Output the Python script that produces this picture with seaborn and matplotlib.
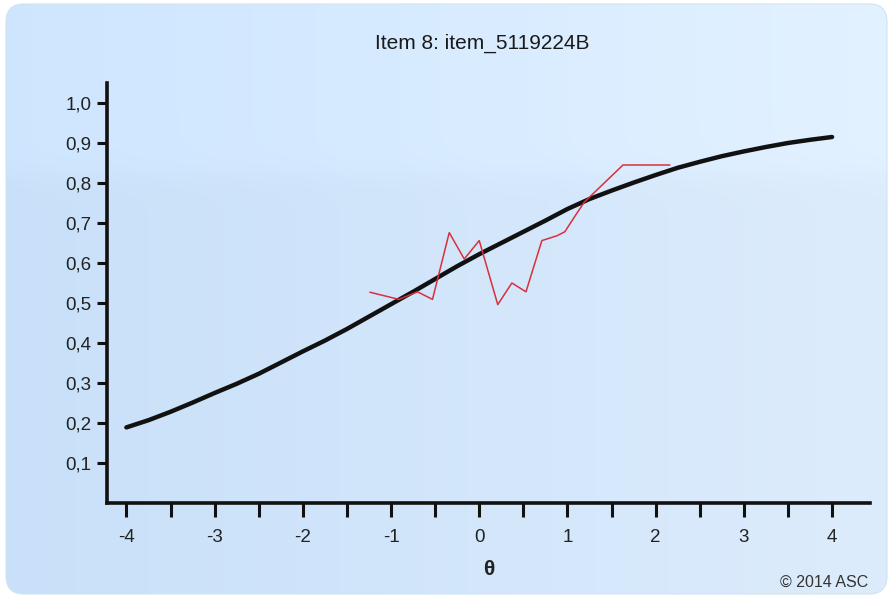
import numpy as np
import pandas as pd
import matplotlib
matplotlib.use("Agg")
import matplotlib.pyplot as plt
import seaborn as sns
from matplotlib.patches import FancyBboxPatch

# ---------------- data ----------------
title_text = "Item 8: item_5119224B"
x_label = "θ"
credit_text = "© 2014 ASC"

theta_icc = [-4.0, -3.75, -3.5, -3.25, -3.0, -2.75, -2.5, -2.25, -2.0, -1.75,
             -1.5, -1.25, -1.0, -0.75, -0.5, -0.25, 0.0, 0.25, 0.5, 0.75,
             1.0, 1.25, 1.5, 1.75, 2.0, 2.25, 2.5, 2.75, 3.0, 3.25, 3.5, 3.75, 4.0]
p_icc = [0.189, 0.207, 0.228, 0.251, 0.275, 0.298, 0.323, 0.351, 0.379, 0.406,
         0.435, 0.466, 0.497, 0.528, 0.560, 0.592, 0.622, 0.650, 0.678, 0.706,
         0.735, 0.760, 0.781, 0.801, 0.820, 0.838, 0.853, 0.867, 0.879, 0.890, 0.900, 0.908, 0.915]

theta_emp = [-1.24, -0.91, -0.70, -0.53, -0.34, -0.17, 0.0, 0.21, 0.37, 0.53,
             0.71, 0.88, 0.97, 1.07, 1.19, 1.63, 2.16]
p_emp = [0.527, 0.509, 0.528, 0.509, 0.676, 0.610, 0.656, 0.496, 0.550, 0.528,
         0.656, 0.668, 0.678, 0.712, 0.752, 0.845, 0.845]

y_ticks = [0.1, 0.2, 0.3, 0.4, 0.5, 0.6, 0.7, 0.8, 0.9, 1.0]
y_tick_labels = ["0,1", "0,2", "0,3", "0,4", "0,5", "0,6", "0,7", "0,8", "0,9", "1,0"]
x_ticks = [-4, -3, -2, -1, 0, 1, 2, 3, 4]
x_tick_labels = ["-4", "-3", "-2", "-1", "0", "1", "2", "3", "4"]
x_minor = [-3.5, -2.5, -1.5, -0.5, 0.5, 1.5, 2.5, 3.5]

icc_df = pd.DataFrame({"theta": theta_icc, "p": p_icc})
emp_df = pd.DataFrame({"theta": theta_emp, "p": p_emp})

# ---------------- style ----------------
sns.set_theme(style="white")
plt.rcParams["font.family"] = ["Liberation Sans", "DejaVu Sans"]

W, H = 893, 598
fig = plt.figure(figsize=(W / 100, H / 100), dpi=100)
fig.patch.set_facecolor("white")

# background panel with gradient
bg = fig.add_axes([0, 0, 1, 1], zorder=-5)
bg.set_axis_off()
ny, nx = 300, 450
xx = np.linspace(0, 1, nx)[None, :]
yy = np.linspace(0, 1, ny)[:, None]  # 0 = top
left_col = np.array([200, 224, 249]) / 255.0
right_col = np.array([221, 236, 252]) / 255.0
img = left_col[None, None, :] * (1 - xx[..., None]) + right_col[None, None, :] * xx[..., None]
img = np.repeat(img, ny, axis=0)
# glossy highlight on top part
hl = 1.0 / (1.0 + np.exp((yy - 0.29) / 0.012))
img = img + (hl[..., None] * 0.022)
img = np.clip(img, 0, 1)
im = bg.imshow(img, extent=[0, 1, 0, 1], aspect="auto", origin="upper",
               transform=bg.transAxes, interpolation="bilinear")
panel = FancyBboxPatch((6 / W, 4 / H), (W - 12) / W, (H - 8) / H,
                       boxstyle="round,pad=0,rounding_size=0.02",
                       transform=bg.transAxes, facecolor="none",
                       edgecolor=(0.82, 0.89, 0.95), linewidth=0.8,
                       mutation_aspect=W / H)
bg.add_patch(panel)
im.set_clip_path(panel)
bg.set_xlim(0, 1)
bg.set_ylim(0, 1)

# main axes
ax = fig.add_axes([107 / W, 1 - 503 / H, (870 - 107) / W, (503 - 83) / H])
ax.set_facecolor("none")

sns.lineplot(data=icc_df, x="theta", y="p", ax=ax, color="#111111",
             linewidth=3.2, sort=False, estimator=None, zorder=3)
sns.lineplot(data=emp_df, x="theta", y="p", ax=ax, color="#d8303c",
             linewidth=1.1, sort=False, estimator=None, zorder=4)

ax.set_xlim(-4.22, 4.43)
ax.set_ylim(0.0, 1.05)

ax.set_yticks(y_ticks)
ax.set_yticklabels(y_tick_labels)
ax.set_xticks(x_ticks)
ax.set_xticklabels(x_tick_labels)
ax.set_xticks(x_minor, minor=True)

for s in ["top", "right"]:
    ax.spines[s].set_visible(False)
for s in ["left", "bottom"]:
    ax.spines[s].set_color("#111111")
    ax.spines[s].set_linewidth(2.6)

ax.tick_params(axis="y", which="major", direction="out", length=7, width=2.2,
               color="#111111", labelsize=13.5, labelcolor="#222222", pad=4, left=True)
ax.tick_params(axis="x", which="both", direction="out", length=10, width=2.2,
               color="#111111", labelsize=13.5, labelcolor="#222222", pad=9, bottom=True)

ax.set_xlabel(x_label, fontsize=15, fontweight="bold", color="#222222", labelpad=10)
ax.set_ylabel("")

fig.text(482 / W, 1 - 43 / H, title_text, ha="center", va="center",
         fontsize=15, color="#1a1a1a")
fig.text(868 / W, 1 - 582 / H, credit_text, ha="right", va="center",
         fontsize=11.5, color="#333333")

fig.savefig("out.png", dpi=100, facecolor="white")
